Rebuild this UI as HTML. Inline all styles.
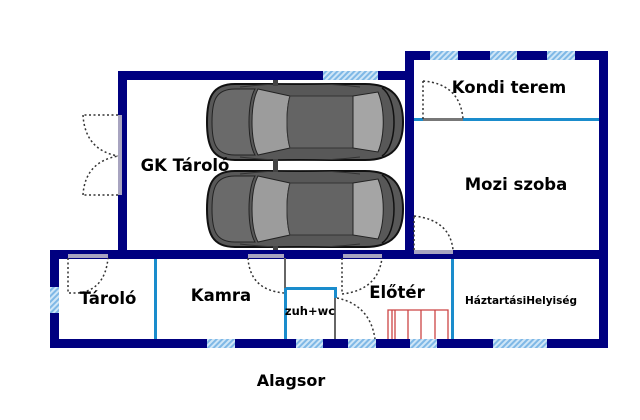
<!DOCTYPE html>
<html><head><meta charset="utf-8"><style>
html,body{margin:0;padding:0;background:#fff;}
svg{display:block;}
text{font-family:"DejaVu Sans","Liberation Sans",sans-serif;font-weight:bold;fill:#000;}
</style></head><body>
<svg width="640" height="420" viewBox="0 0 640 420" xmlns="http://www.w3.org/2000/svg">
<defs>
<pattern id="h" width="4" height="4" patternUnits="userSpaceOnUse" patternTransform="rotate(45)">
<rect width="4" height="4" fill="#cfe6f7"/><rect width="2" height="4" fill="#7fb8e6"/>
</pattern>
<g id="car">
<path d="M235,0 C212,0 207,14 207,38 C207,62 212,76 235,76 L365,76 C393,76 403,62 403,38 C403,14 393,0 365,0 Z" fill="#585858" stroke="#111" stroke-width="2"/>
<path d="M235,5 C216,5 212,16 212,38 C212,60 216,71 235,71 L255,71 C247,58 247,18 255,5 Z" fill="#6a6a6a" stroke="#222" stroke-width="1"/>
<path d="M258,5 L290,12 C286,25 286,51 290,64 L258,71 C250,56 250,20 258,5 Z" fill="#9c9c9c" stroke="#222" stroke-width="1"/>
<path d="M290,12 L353,12 L353,64 L290,64 C286,51 286,25 290,12 Z" fill="#646464" stroke="#333" stroke-width="1"/>
<path d="M353,12 L378,8 C385,25 385,51 378,68 L353,64 Z" fill="#a5a5a5" stroke="#222" stroke-width="1"/>
<path d="M382,4 C398,14 398,62 382,72" fill="none" stroke="#111" stroke-width="1.5"/>
<path d="M240,3 Q300,-4 360,3 M240,73 Q300,80 360,73" fill="none" stroke="#333" stroke-width="1"/>
</g>
</defs>
<use href="#car" transform="translate(0,84)"/>
<use href="#car" transform="translate(0,171)"/>
<rect x="273" y="78" width="5" height="8" fill="#444"/>
<rect x="273" y="159" width="5" height="13" fill="#444"/>
<rect x="273" y="246" width="5" height="8" fill="#444"/>
<g fill="#000080">
<rect x="118" y="71" width="292" height="9"/>
<rect x="118" y="71" width="9" height="187"/>
<rect x="405" y="51" width="203" height="9"/>
<rect x="405" y="51" width="9" height="207"/>
<rect x="599" y="51" width="9" height="297"/>
<rect x="50" y="250" width="558" height="9"/>
<rect x="50" y="339" width="558" height="9"/>
<rect x="50" y="250" width="9" height="98"/>
</g>
<g fill="url(#h)">
<rect x="323" y="71" width="55" height="9"/>
<rect x="430" y="51" width="28" height="9"/>
<rect x="490" y="51" width="27" height="9"/>
<rect x="547" y="51" width="28" height="9"/>
<rect x="50" y="287" width="9" height="26"/>
<rect x="207" y="339" width="28" height="9"/>
<rect x="296" y="339" width="27" height="9"/>
<rect x="348" y="339" width="28" height="9"/>
<rect x="410" y="339" width="27" height="9"/>
<rect x="493" y="339" width="54" height="9"/>
</g>
<g fill="#a8a4c0">
<rect x="118" y="115" width="4" height="80"/>
<rect x="68" y="254" width="40" height="4"/>
<rect x="248" y="254" width="36" height="4"/>
<rect x="343" y="254" width="39" height="4"/>
<rect x="414" y="250" width="39" height="4"/>
</g>
<g fill="#1a8ccc">
<rect x="414" y="118" width="185" height="3"/>
<rect x="154" y="259" width="3" height="80"/>
<rect x="284" y="287" width="3" height="52"/>
<rect x="284" y="287" width="53" height="3"/>
<rect x="334" y="287" width="3" height="11"/>
<rect x="451" y="259" width="3" height="80"/>
</g>
<rect x="284" y="258" width="2" height="30" fill="#666"/>
<rect x="334" y="298" width="2" height="41" fill="#666"/>
<rect x="423" y="118" width="40" height="3" fill="#777"/>
<g fill="none" stroke="#333" stroke-width="1.5" stroke-dasharray="2,2.5">
<path d="M118,115 L83,115 M83,115 Q85,150 118,156"/>
<path d="M118,195 L83,195 M83,195 Q85,162 118,156"/>
<path d="M68,258 L68,293 L78,293 M78,293 Q105,290 108,258"/>
<path d="M248,258 Q250,290 284,293"/>
<path d="M342,258 L342,294 M342,294 Q378,290 382,258"/>
<path d="M337,298 Q370,305 375,339"/>
<path d="M423,119 L423,81 M423,81 Q460,84 463,119"/>
<path d="M414,250 L414,216 M414,216 Q450,220 453,250"/>
</g>
<g fill="none" stroke="#cc4444" stroke-width="1.3">
<path d="M388,339 L388,310 L448,310 L448,339"/>
<path d="M392,310 V339 M395,310 V339 M408,310 V339 M421,310 V339 M435,310 V339"/>
</g>
<text x="185" y="171" font-size="16.5" text-anchor="middle">GK Tároló</text>
<text x="509" y="93" font-size="16.5" text-anchor="middle">Kondi terem</text>
<text x="516" y="190" font-size="16.5" text-anchor="middle">Mozi szoba</text>
<text x="108" y="304" font-size="16.5" text-anchor="middle">Tároló</text>
<text x="221" y="301" font-size="16.5" text-anchor="middle">Kamra</text>
<text x="310" y="315" font-size="11.5" text-anchor="middle">zuh+wc</text>
<text x="397" y="298" font-size="16.5" text-anchor="middle">Előtér</text>
<text x="521" y="304" font-size="10.5" text-anchor="middle">HáztartásiHelyiség</text>
<text x="291" y="386" font-size="16" text-anchor="middle">Alagsor</text>
</svg>
</body></html>
